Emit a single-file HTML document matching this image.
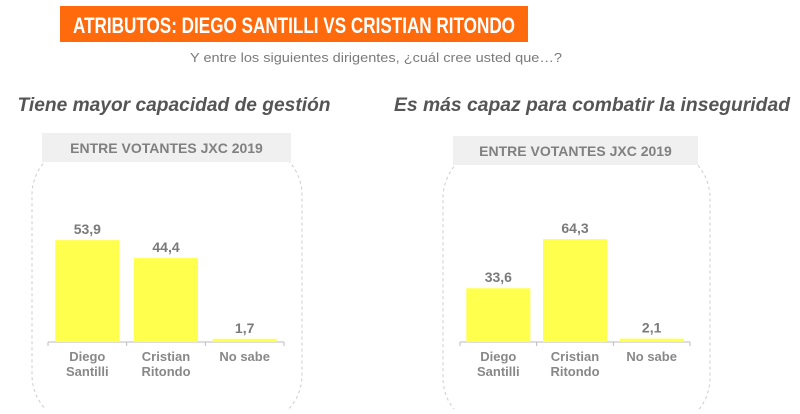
<!DOCTYPE html>
<html><head><meta charset="utf-8"><style>
body{margin:0;width:800px;height:409px;background:#fff;overflow:hidden;font-family:"Liberation Sans",sans-serif}
</style></head><body>
<svg id="s" width="800" height="409" xmlns="http://www.w3.org/2000/svg">
<rect x="60" y="6" width="468" height="36" fill="#ff6a0d"/>
<text x="294" y="33" text-anchor="middle" font-size="22" font-weight="bold" fill="#fff" textLength="442" lengthAdjust="spacingAndGlyphs">ATRIBUTOS: DIEGO SANTILLI VS CRISTIAN RITONDO</text>
<text x="376" y="62" text-anchor="middle" font-size="13" fill="#7a7a7a" textLength="372" lengthAdjust="spacingAndGlyphs">Y entre los siguientes dirigentes, ¿cuál cree usted que…?</text>
<text x="174" y="111" text-anchor="middle" font-size="19" font-weight="bold" font-style="italic" fill="#555" textLength="313" lengthAdjust="spacingAndGlyphs">Tiene mayor capacidad de gestión</text>
<text x="592" y="111" text-anchor="middle" font-size="19" font-weight="bold" font-style="italic" fill="#555" textLength="396" lengthAdjust="spacingAndGlyphs">Es más capaz para combatir la inseguridad</text>
</svg>
<script>
const categories=[["Diego","Santilli"],["Cristian","Ritondo"],["No sabe"]];
const gestionValues=[53.9,44.4,1.7];
const gestionLabels=["53,9","44,4","1,7"];
const inseguridadValues=[33.6,64.3,2.1];
const inseguridadLabels=["33,6","64,3","2,1"];
const svg=document.getElementById('s');
const NS='http://www.w3.org/2000/svg';
function mk(t,a){const e=document.createElementNS(NS,t);for(const k in a)e.setAttribute(k,a[k]);svg.appendChild(e);return e;}
function chart(p,vals,labs,id){
  const box=mk('rect',{x:p.bx,y:p.hy+12,width:p.bw,height:280,rx:50,fill:'none',stroke:'#ccc','stroke-dasharray':'3,3'});
  
  
  const hb=mk('rect',{x:p.hx,y:p.hy,width:p.hw,height:29,fill:'#f0f0f0'});
  
  
  const ht=mk('text',{x:p.hx+p.hw/2,y:p.hy+20,'text-anchor':'middle','font-size':14,'font-weight':'bold',fill:'#808080'});
  ht.textContent='ENTRE VOTANTES JXC 2019';
  
  
  const base=342;
  const y=v=>base-v*p.scale;
  const ax=mk('line',{x1:p.ax0,x2:p.ax1,y1:base,y2:base,stroke:'#bbb'});
  
  
  const slot=(p.ax1-p.ax0)/vals.length;
  for(let i=0;i<=vals.length;i++){const t=mk('line',{x1:p.ax0+i*slot,x2:p.ax0+i*slot,y1:base,y2:base+4,stroke:'#bbb'});
    
    }
  vals.forEach((v,i)=>{
    const cx=p.ax0+slot*(i+.5);
    const r=mk('rect',{x:cx-32,y:y(v),width:64,height:base-y(v),fill:'#ffff4d'});
    
    
    const t=mk('text',{x:cx,y:y(v)-6,'text-anchor':'middle','font-size':14,'font-weight':'bold',fill:'#7a7a7a'});
    t.textContent=labs[i];
    
    
    categories[i].forEach((c,j)=>{
      const l=mk('text',{x:cx,y:361+j*15,'text-anchor':'middle','font-size':13,'font-weight':'bold',fill:'#888'});
      l.textContent=c;
      
      
    });
  });
}
chart({bx:32,bw:270,hx:42,hw:249,hy:133,ax0:48,ax1:284,scale:1.89},gestionValues,gestionLabels,'gestion');
chart({bx:443,bw:267,hx:453,hw:245,hy:136,ax0:460,ax1:690,scale:1.6},inseguridadValues,inseguridadLabels,'inseguridad');
</script>
</body></html>
